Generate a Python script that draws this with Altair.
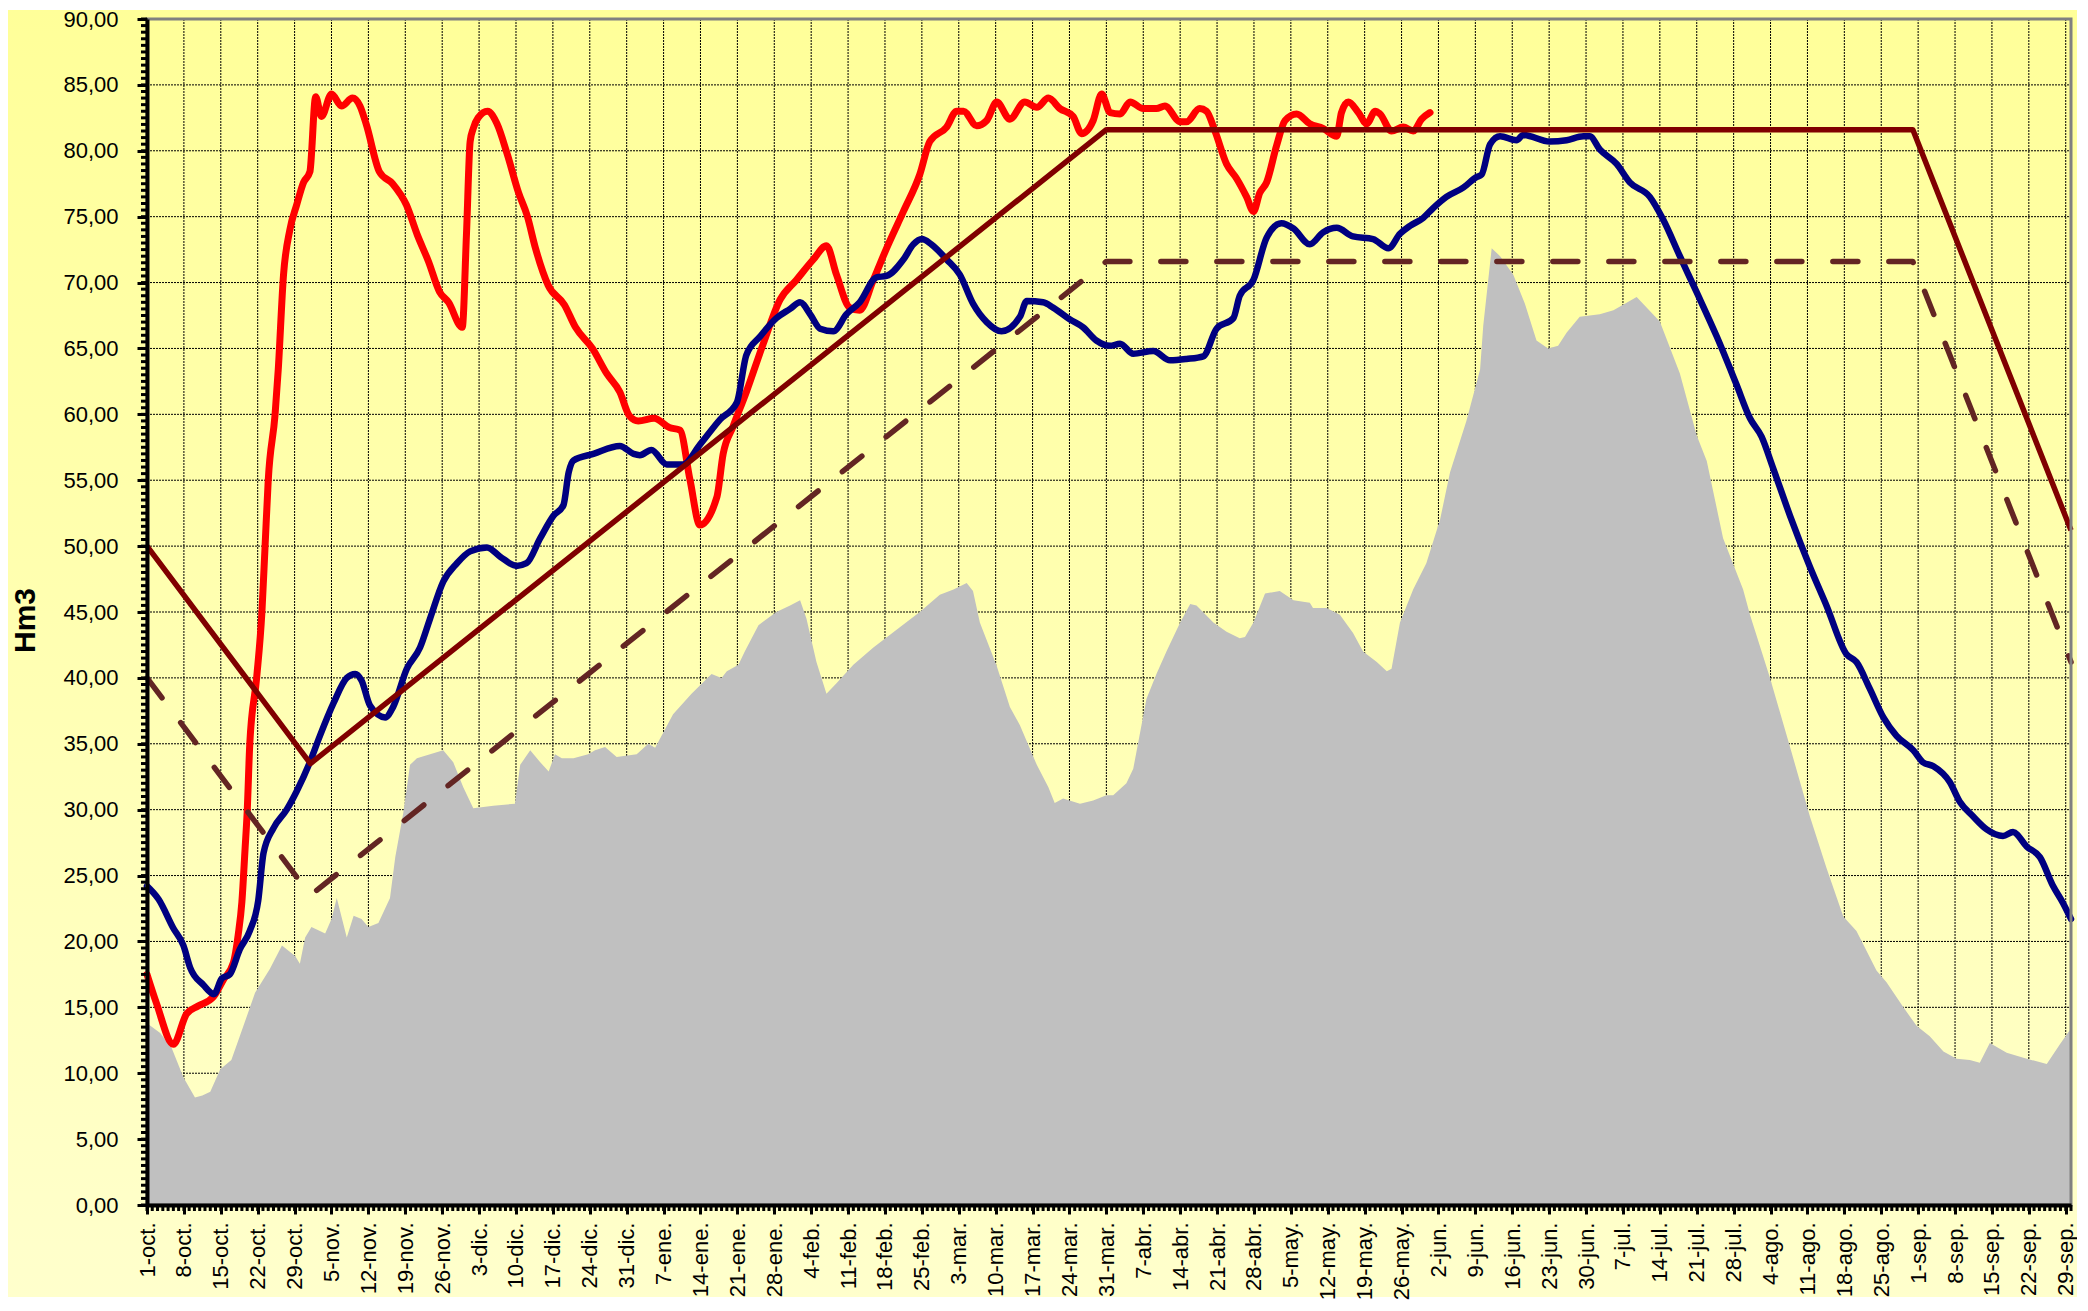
import altair as alt
import pandas as pd

W, H = 1924, 1186

week_labels = [
    "1-oct.", "8-oct.", "15-oct.", "22-oct.", "29-oct.", "5-nov.", "12-nov.", "19-nov.", "26-nov.",
    "3-dic.", "10-dic.", "17-dic.", "24-dic.", "31-dic.", "7-ene.", "14-ene.", "21-ene.", "28-ene.",
    "4-feb.", "11-feb.", "18-feb.", "25-feb.", "3-mar.", "10-mar.", "17-mar.", "24-mar.", "31-mar.",
    "7-abr.", "14-abr.", "21-abr.", "28-abr.", "5-may.", "12-may.", "19-may.", "26-may.", "2-jun.",
    "9-jun.", "16-jun.", "23-jun.", "30-jun.", "7-jul.", "14-jul.", "21-jul.", "28-jul.", "4-ago.",
    "11-ago.", "18-ago.", "25-ago.", "1-sep.", "8-sep.", "15-sep.", "22-sep.", "29-sep.",
]

# grey area (day index from 1-oct, Hm3)
grey_days = [0, 2.5, 4.7, 6.9, 9.1, 10.5, 12, 13.9, 16, 17.6, 20.5, 23.3, 25.6, 28.1, 29, 30, 31.2, 33.8,
             35, 36, 37.9, 39.2, 40.7, 42, 43.9, 46.1, 47.1, 48.6, 49.9, 51.2, 53.7, 56.2, 58.1, 60, 61.9,
             65.7, 69.8, 70.8, 72.7, 74.6, 76.2, 77.4, 78.7, 80.9, 83.7, 85, 86.9, 89.1, 92.9, 95.1, 96.4,
             99.8, 103.3, 107.1, 109, 110, 112.2, 113.4, 116, 119.4, 122, 123.9, 125.1, 127, 128.9, 130.8,
             134, 137.8, 142.2, 146.6, 150.4, 153, 155.5, 156.7, 158, 161.2, 163.7, 165.6, 168.8, 171,
             172.2, 173.8, 177, 179.5, 182, 183.3, 185.8, 187.1, 189.6, 191.5, 193.4, 196, 197.9, 199.1,
             202.3, 204.8, 207.3, 208.3, 209.9, 212.1, 214.9, 217.5, 220.6, 221.2, 223.8, 226.3, 228.8,
             230.7, 233.3, 235.2, 236.1, 237.7, 240.2, 242.7, 245.3, 247.2, 250.3, 252.9, 253.5, 255.1,
             256.7, 259.2, 261.4, 263.6, 265.8, 267.7, 269.3, 271.8, 275.6, 278.2, 282.6, 287, 290.8, 294,
             295.9, 299, 302.8, 304.1, 307.9, 311.7, 315.5, 318.6, 321.8, 324.3, 328.1, 330, 333.2, 335.7,
             338.2, 340.8, 343.3, 345.8, 347.7, 349.6, 352.8, 356.6, 360.4, 362.9, 365]
grey_vals = [13.8, 13.05, 11.9, 9.7, 8.15, 8.3, 8.6, 10.3, 11.0, 12.8, 16.1, 17.9, 19.7, 18.9, 18.3, 20.3, 21.1, 20.6,
             21.7, 23.3, 20.3, 21.95, 21.7, 21.1, 21.4, 23.3, 26.4, 29.7, 33.4, 33.9, 34.2, 34.5, 33.6, 31.7, 30.1,
             30.3, 30.45, 33.4, 34.5, 33.6, 32.9, 34.2, 33.9, 33.9, 34.2, 34.5, 34.75, 34.0, 34.2, 35.0, 34.7,
             37.25, 38.8, 40.3, 40.0, 40.5, 41.0, 42.0, 44.0, 45.0, 45.5, 45.9, 44.5, 41.2, 38.8, 39.6,
             41.0, 42.3, 43.65, 45.0, 46.3, 46.7, 47.2, 46.6, 44.2, 40.9, 37.8, 36.4, 33.4, 31.7,
             30.5, 30.85, 30.45, 30.7, 31.1, 31.1, 32.0, 33.1, 38.4, 40.3, 42.0, 44.2, 45.6, 45.5,
             44.2, 43.5, 43.0, 43.1, 44.2, 46.4, 46.6, 45.9, 45.7, 45.3, 45.3, 44.8, 43.4,
             42.0, 41.2, 40.5, 40.7, 44.2, 46.7, 48.7, 52.0, 55.6, 59.5, 63.4, 66.75, 72.6,
             72.0, 70.6, 68.4, 65.6, 65.0, 65.2, 66.2, 67.4, 67.6, 67.9, 68.9, 67.05, 63.1, 58.4,
             56.45, 50.6, 46.7, 44.8, 40.0, 34.75, 29.45, 25.6, 21.9, 20.8, 17.8, 16.9, 15.0, 13.6,
             12.8, 11.65, 11.1, 11.0, 10.8, 12.3, 11.55, 11.1, 10.7, 12.2, 13.4]

red_days = [0, 1.8, 5, 7.5, 9.7, 12.6, 14.5, 16.4, 17.3, 18, 18.6, 19, 19.5, 20.8, 21.8, 22.4, 23, 24.3, 24.9,
            25.9, 27.1, 28.4, 29.7, 30.9, 32, 33.1, 35, 36.9, 39, 40.4, 41.6, 44.1, 46.6, 49.2, 51.3, 53.4,
            55.5, 57.2, 59.8, 60.6, 61.3, 61.9, 62.8, 64.6, 66.4, 68.3, 70.5, 72.1, 73.7, 76.1, 79.2, 81.3,
            84.5, 87.2, 89.7, 91.5, 93.2, 96.2, 99.1, 101.1, 103, 104.9, 108.1, 109.3, 111.2, 113.7, 116.9,
            120.1, 123.2, 126.4, 128.9, 130.8, 133.3, 135.2, 137.8, 140.3, 143.5, 146.6, 148.5, 151.7, 153.6,
            154.9, 157.4, 159.3, 161.2, 163.7, 166.5, 168.8, 171, 173.2, 175.7, 177.3, 179.5, 181.1, 182.7,
            184.6, 186.5, 189, 191.5, 193.1, 196, 197.2, 199.7, 201, 202.6, 204.8, 206.7, 208.6, 209.9,
            211.1, 212.4, 214.3, 215.9, 218.1, 220.6, 223.1, 225.7, 226.6, 227.9, 229.8, 231.4, 233, 233.9,
            236.1, 238.3, 240.2, 241.8, 243.4]
red_vals = [17.5, 15.3, 12.2, 14.5, 15.1, 15.8, 17.1, 18.4, 20.5, 23, 27, 29.8, 35, 40, 45, 50, 55, 60, 63.4,
            70.6, 74.0, 75.9, 77.6, 78.4, 84.1, 82.6, 84.3, 83.4, 84.0, 83.4, 82.0, 78.4, 77.5, 75.9, 73.6, 71.6,
            69.3, 68.5, 66.6, 73.6, 80.7, 81.7, 82.5, 83.0, 82.05, 79.8, 76.8, 75.1, 72.6, 69.8, 68.3, 66.6,
            65.0, 63.1, 61.7, 59.9, 59.5, 59.7, 59.0, 58.8, 55.05, 51.6, 53.7, 57.0, 59.1, 61.7, 65.35,
            68.7, 70.2, 71.75, 72.8, 70.6, 68.1, 67.9, 70.2, 72.6, 75.4, 78.2, 80.7, 81.8, 83.0,
            83.0, 81.9, 82.3, 83.7, 82.4, 83.7, 83.3, 84.0, 83.2, 82.6, 81.3, 82.3, 84.3, 82.9,
            82.8, 83.7, 83.2, 83.2, 83.4, 82.2, 82.2, 83.2, 83.0, 81.5, 79.0, 77.9, 76.5, 75.4,
            76.8, 77.6, 80.4, 82.3, 82.8, 82.05, 81.7, 81.1, 82.9, 83.7, 82.9, 82.05, 83.0, 82.8,
            81.5, 81.8, 81.5, 82.4, 82.9]

blue_days = [0, 2.2, 5, 6.9, 8.2, 10.7, 12.7, 14.2, 15.7, 17.6, 19.5, 21.1, 22.1, 24, 26.5, 28.4, 30.9, 32.8,
             35.4, 37.9, 39.5, 40.7, 42.3, 45.2, 46.7, 49.3, 51.8, 53.7, 56.2, 58.8, 61.3, 64.5, 67, 70.1, 72,
             74.6, 77.1, 79, 80, 80.9, 84.7, 89.7, 92.3, 93.5, 95.7, 98.6, 101.7, 104.9, 108.7, 111.9, 113.7,
             116.3, 119.4, 122, 123.9, 125.8, 127.7, 130.2, 132.7, 135.2, 138.4, 140.3, 143.5, 145.4, 147,
             148.8, 151.7, 154.2, 156.7, 159.3, 162.1, 165.6, 166.9, 170, 171.9, 175.1, 177.6, 180.1, 182.7,
             184.6, 187.1, 190.9, 194.1, 197.2, 200.4, 202.9, 206.1, 207.3, 209.9, 212.4, 215.2, 217.5, 220.6,
             223.1, 225.7, 228.8, 232.6, 235.5, 237.7, 239.6, 242.1, 244, 246.5, 249.7, 252.2, 253.2, 254.8,
             256.7, 259.8, 261.1, 266.1, 269.3, 272.5, 273.7, 275.6, 278.8, 281.3, 285.1, 287.6, 290.8, 294,
             297.8, 301.5, 304.1, 306.3, 308.5, 311.7, 315.5, 318.6, 322.4, 324.3, 326.8, 329.4, 331.9, 335.1,
             336.9, 338.9, 342, 343.9, 346.4, 349, 352.1, 354, 356.6, 359.1, 361.6, 363.5, 365]
blue_vals = [24.2, 23.2, 21.0, 19.7, 18.0, 16.7, 16.0, 17.2, 17.5, 19.4, 20.8, 23.1, 26.7, 28.6, 30.0, 31.4, 33.6, 35.6,
             38.1, 40.0, 40.3, 39.8, 37.9, 37.0, 37.8, 40.7, 42.3, 44.5, 47.3, 48.7, 49.6, 49.9, 49.2, 48.5, 48.7,
             50.6, 52.3, 53.1, 55.6, 56.5, 57.0, 57.6, 57.0, 56.9, 57.3, 56.2, 56.2, 57.7, 59.6, 60.9, 64.5,
             65.9, 67.3, 68.0, 68.5, 67.6, 66.5, 66.3, 67.6, 68.5, 70.4, 70.5, 71.75, 72.9, 73.3,
             72.9, 71.75, 70.6, 68.4, 67.0, 66.3, 67.4, 68.6, 68.5, 68.1, 67.2, 66.6, 65.6, 65.2,
             65.35, 64.6, 64.8, 64.1, 64.2, 64.4, 66.5, 67.3, 69.0, 70.2, 73.4, 74.5, 74.1, 72.9,
             73.8, 74.15, 73.5, 73.3, 72.6, 73.7, 74.3, 74.9, 75.65, 76.5, 77.2, 78.0, 78.2, 80.5,
             81.1, 80.8, 81.2, 80.7, 80.8, 81.1, 81.1, 80.1, 79.0, 77.6, 76.5, 74.8, 72.0, 69.25,
             65.9, 62.3, 59.7, 58.3, 55.9, 52.3, 48.4, 45.5, 41.8, 41.2, 39.2, 37.0, 35.6, 34.5,
             33.6, 33.3, 32.1, 30.6, 29.5, 28.5, 28.0, 28.3, 27.2, 26.4, 24.2, 22.9, 21.7]

max_days = [0, 31, 182, 335, 365]
max_vals = [50.0, 33.5, 81.6, 81.6, 51.2]
min_days = [0, 31, 182, 335, 365]
min_vals = [40.0, 23.5, 71.6, 71.6, 41.2]

x_major = list(range(0, 365, 7))
y_major = list(range(0, 95, 5))
x_minor = list(range(0, 366))
y_minor = [i * 0.5 for i in range(181)]
y_grid = list(range(5, 90, 5))
frame = {"x0": [0], "x1": [365], "y0": [0], "y1": [90]}

FONT = "Liberation Sans"
xscale = alt.Scale(domain=[0, 365], nice=False, zero=False)
yscale = alt.Scale(domain=[0, 90], nice=False, zero=True)

label_js = "[" + ",".join("'%s'" % s for s in week_labels) + "]"

x_axis = alt.Axis(
    values=x_major,
    labelExpr=label_js + "[round(datum.value / 7)]",
    labelAngle=-90, labelFont=FONT, labelFontSize=22, labelColor="black",
    labelPadding=8, labelOverlap=False, labelFlush=False,
    tickSize=9, tickColor="black", tickWidth=3, domainColor="black", domainWidth=4,
    grid=False, zindex=2, orient="bottom",
)
y_axis = alt.Axis(
    values=y_major,
    labelExpr="replace(format(datum.value, '.2f'), '.', ',')",
    labelFont=FONT, labelFontSize=22, labelColor="black", labelPadding=19,
    labelOverlap=False, labelFlush=False,
    tickSize=10, tickColor="black", tickWidth=3, domainColor="black", domainWidth=4,
    grid=False, zindex=2, orient="left",
    title="Hm3", titleFont=FONT, titleFontSize=30, titleFontWeight="bold", titleColor="black",
    titleX=-122, titleY=601, titleAngle=270, titleBaseline="middle", titleAlign="center",
)

bg = alt.Chart(pd.DataFrame({"k": [0]})).mark_rect(
    fill=alt.LinearGradient(
        gradient="linear",
        stops=[alt.GradientStop(color="#FFFF99", offset=0), alt.GradientStop(color="#FFFFCC", offset=1)],
        x1=0, x2=0, y1=0, y2=1,
    )
).encode(x=alt.value(-139), x2=alt.value(W + 6), y=alt.value(-9), y2=alt.value(H + 92))

vgrid = alt.Chart(pd.DataFrame({"d": x_major})).mark_rule(
    color="black", strokeWidth=1, strokeDash=[2, 1]
).encode(x=alt.X("d:Q", scale=xscale, axis=None), y=alt.value(0), y2=alt.value(H))

hgrid = alt.Chart(pd.DataFrame({"v": y_grid})).mark_rule(
    color="black", strokeWidth=1, strokeDash=[2, 1]
).encode(y=alt.Y("v:Q", scale=yscale, axis=None), x=alt.value(0), x2=alt.value(W))

xminor = alt.Chart(pd.DataFrame({"d": x_minor})).mark_rule(color="black", strokeWidth=3).encode(
    x=alt.X("d:Q", scale=xscale, axis=None), y=alt.value(H), y2=alt.value(H + 6))
yminor = alt.Chart(pd.DataFrame({"v": y_minor})).mark_rule(color="black", strokeWidth=3).encode(
    y=alt.Y("v:Q", scale=yscale, axis=None), x=alt.value(-6), x2=alt.value(0))

area = alt.Chart(pd.DataFrame({"d": grey_days, "v": grey_vals})).mark_area(color="#C0C0C0").encode(
    x=alt.X("d:Q", scale=xscale, axis=x_axis, title=None),
    y=alt.Y("v:Q", scale=yscale, axis=y_axis),
)


def line(days, vals, color, width, dash=None):
    kw = dict(color=color, strokeWidth=width, strokeJoin="round", strokeCap="round")
    if dash:
        kw["strokeDash"] = dash
    else:
        kw["interpolate"] = "monotone"
    return alt.Chart(pd.DataFrame({"d": days, "v": vals})).mark_line(**kw).encode(
        x=alt.X("d:Q", scale=xscale, axis=None),
        y=alt.Y("v:Q", scale=yscale, axis=None),
    )


red = line(red_days, red_vals, "#FF0000", 7)
blue = line(blue_days, blue_vals, "#000080", 6.5)
dashed = line(min_days, min_vals, "#632523", 5.5, dash=[25, 31])
solid = alt.Chart(pd.DataFrame({"d": max_days, "v": max_vals})).mark_line(
    color="#800000", strokeWidth=5.5, strokeJoin="round"
).encode(x=alt.X("d:Q", scale=xscale, axis=None), y=alt.Y("v:Q", scale=yscale, axis=None))

border = alt.Chart(pd.DataFrame(frame)).mark_rect(fillOpacity=0, stroke="#808080", strokeWidth=3).encode(
    x=alt.X("x0:Q", scale=xscale, axis=None), x2="x1:Q",
    y=alt.Y("y0:Q", scale=yscale, axis=None), y2="y1:Q",
)

chart = alt.layer(bg, vgrid, hgrid, area, red, blue, dashed, solid, border, xminor, yminor).resolve_axis(
    x="independent", y="independent"
).properties(
    width=W, height=H, padding=0
).configure_view(strokeWidth=0)

chart.save("out.html", embed_options={"renderer": "svg", "actions": False})
